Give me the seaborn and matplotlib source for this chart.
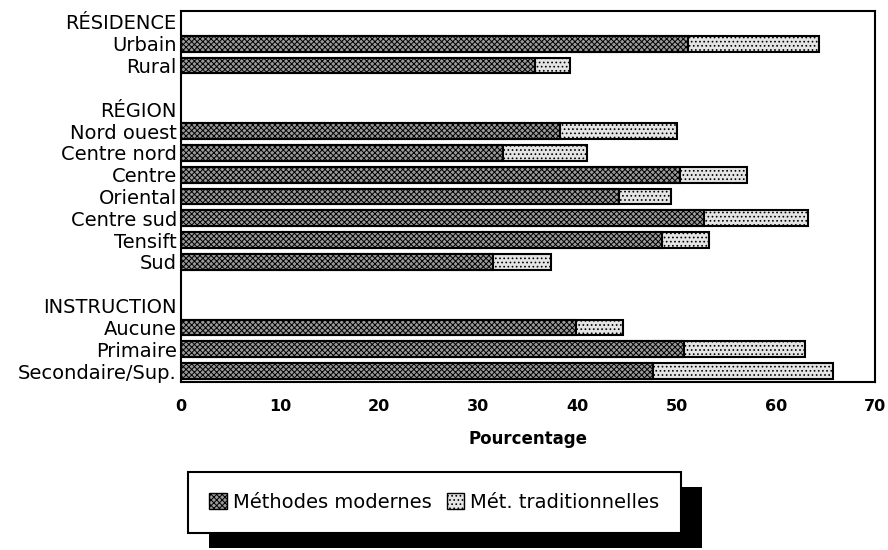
import matplotlib
matplotlib.use("Agg")
import matplotlib.pyplot as plt
from matplotlib.patches import Patch, Rectangle
import seaborn as sns
import pandas as pd

# Valeurs (pourcentages)
categories = ["Urbain", "Rural",
              "Nord ouest", "Centre nord", "Centre", "Oriental",
              "Centre sud", "Tensift", "Sud",
              "Aucune", "Primaire", "Secondaire/Sup."]
modernes = [51.1, 35.7,
            38.2, 32.5, 50.3, 44.2, 52.8, 48.5, 31.5,
            39.8, 50.7, 47.6]
traditionnelles = [13.2, 3.5,
                   11.8, 8.4, 6.8, 5.2, 10.4, 4.8, 5.8,
                   4.8, 12.2, 18.2]

# ordre des lignes, avec en-tetes de groupes et lignes vides
ordre = ["RÉSIDENCE", "Urbain", "Rural", " ",
         "RÉGION", "Nord ouest", "Centre nord", "Centre", "Oriental",
         "Centre sud", "Tensift", "Sud", "  ",
         "INSTRUCTION", "Aucune", "Primaire", "Secondaire/Sup."]

labels_legende = ["Méthodes modernes", "Mét. traditionnelles"]

df = pd.DataFrame({"Categorie": categories,
                   "Modernes": modernes,
                   "Traditionnelles": traditionnelles})
df["Total"] = df["Modernes"] + df["Traditionnelles"]

sns.set_theme(style="white")
plt.rcParams["font.family"] = ["DejaVu Sans"]
plt.rcParams["text.color"] = "black"
plt.rcParams["axes.labelcolor"] = "black"
plt.rcParams["xtick.color"] = "black"
plt.rcParams["ytick.color"] = "black"
plt.rcParams["hatch.linewidth"] = 0.7

style_mod = dict(facecolor="#9a9a9a", hatch="xxxxxx", edgecolor="black")
style_trad = dict(facecolor="#e4e4e4", hatch="....", edgecolor="black")

fig, ax = plt.subplots(figsize=(8.88, 5.5), dpi=100)
fig.subplots_adjust(left=0.2038, right=0.9854, top=0.98, bottom=0.3055)

# barres totales (traditionnelles) puis modernes par-dessus
sns.barplot(data=df, x="Total", y="Categorie", order=ordre, orient="h",
            color=style_trad["facecolor"], saturation=1, errorbar=None,
            width=0.72, linewidth=1.5, edgecolor="black",
            hatch=style_trad["hatch"], ax=ax)
sns.barplot(data=df, x="Modernes", y="Categorie", order=ordre, orient="h",
            color=style_mod["facecolor"], saturation=1, errorbar=None,
            width=0.72, linewidth=1.5, edgecolor="black",
            hatch=style_mod["hatch"], ax=ax)

ax.set_xlim(0, 70)
ax.set_xticks(range(0, 71, 10))
ax.set_ylabel("")
ax.set_xlabel("Pourcentage", fontsize=12, fontweight="bold", labelpad=12)
ax.tick_params(axis="y", length=0, pad=3, labelsize=14)
ax.tick_params(axis="x", length=0, pad=12, labelsize=11.5)
for t in ax.get_xticklabels():
    t.set_fontweight("bold")
for s in ax.spines.values():
    s.set_visible(True)
    s.set_color("black")
    s.set_linewidth(1.5)

handles = [Patch(**style_mod, linewidth=1.0), Patch(**style_trad, linewidth=1.0)]
leg = fig.legend(handles, labels_legende, loc="center",
                 bbox_to_anchor=(0.489, 0.0863), ncol=2, fontsize=14,
                 frameon=True, fancybox=False, framealpha=1,
                 edgecolor="black", borderpad=1.1, handletextpad=0.3,
                 columnspacing=0.8, handlelength=0.9, handleheight=0.9)
leg.get_frame().set_linewidth(1.5)
leg.set_zorder(6)

# ombre noire decalee derriere la legende
fig.canvas.draw()
bb = leg.get_window_extent().transformed(fig.transFigure.inverted())
dx, dy = 21 / 888, 15 / 550
fig.patches.append(Rectangle((bb.x0 + dx, bb.y0 - dy), bb.width, bb.height,
                             transform=fig.transFigure, facecolor="black",
                             edgecolor="none", zorder=5))

fig.savefig("out.png", dpi=100)
